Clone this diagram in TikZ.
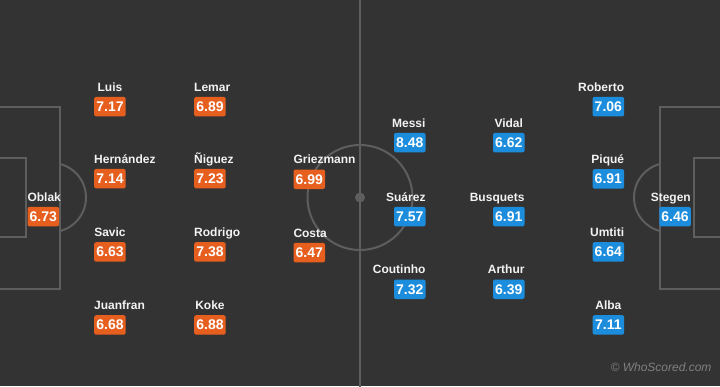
\documentclass[tikz,border=0pt]{standalone}
\usepackage{fontspec}
\setmainfont{Liberation Sans}
\definecolor{pitch}{HTML}{333333}
\definecolor{pline}{HTML}{5E5E5E}
\definecolor{teamA}{HTML}{E65F1E}
\definecolor{teamB}{HTML}{1C8DDC}
\definecolor{nametext}{HTML}{F2F2F2}
\definecolor{wmark}{HTML}{808080}
\tikzset{
  pitchline/.style={draw=pline, line width=2pt},
  ratebox/.style={rounded corners=2pt, inner sep=0pt, minimum width=31.5pt, minimum height=19.5pt,
    text=white, font=\fontsize{14}{16}\selectfont\bfseries},
  rateA/.style={ratebox, fill=teamA, anchor=north west},
  rateB/.style={ratebox, fill=teamB, anchor=north east},
  pname/.style={inner sep=0pt, text=nametext, font=\fontsize{12}{14}\selectfont\bfseries},
}
\newcommand{\plA}[5]{% name id, x, y, rating, align(west/center)
  \node[rateA] (#1r) at (#2,#3) {#4};
  \ifx c#5
    \node[pname, anchor=base] (#1n) at ([yshift=5.5pt]#1r.north) {\csname nm#1\endcsname};
  \else
    \node[pname, anchor=base west] (#1n) at ([yshift=5.5pt]#1r.north west) {\csname nm#1\endcsname};
  \fi}
\newcommand{\plB}[5]{%
  \node[rateB] (#1r) at (#2,#3) {#4};
  \ifx c#5
    \node[pname, anchor=base] (#1n) at ([yshift=5.5pt]#1r.north) {\csname nm#1\endcsname};
  \else
    \node[pname, anchor=base east] (#1n) at ([yshift=5.5pt]#1r.north east) {\csname nm#1\endcsname};
  \fi}
\def\nmoblak{Oblak}\def\nmluis{Luis}\def\nmhern{Hernández}\def\nmsavic{Savic}\def\nmjuan{Juanfran}
\def\nmlemar{Lemar}\def\nmniguez{Ñiguez}\def\nmrodrigo{Rodrigo}\def\nmkoke{Koke}
\def\nmgriez{Griezmann}\def\nmcosta{Costa}
\def\nmmessi{Messi}\def\nmsuarez{Suárez}\def\nmcout{Coutinho}
\def\nmvidal{Vidal}\def\nmbusq{Busquets}\def\nmarthur{Arthur}
\def\nmroberto{Roberto}\def\nmpique{Piqué}\def\nmumtiti{Umtiti}\def\nmalba{Alba}\def\nmstegen{Stegen}
\begin{document}
\begin{tikzpicture}[x=1pt,y=-1pt]
\useasboundingbox (0,0) rectangle (720,386);
\fill[pitch] (0,0) rectangle (720,386);
% pitch markings
\draw[pitchline] (360,-2) -- (360,388);
\draw[pitchline] (360,197.5) circle (52.5);
\fill[pline] (360,197.5) circle (5);
\draw[pitchline] (-2,107) -- (60,107) -- (60,289) -- (-2,289);
\draw[pitchline] (-2,158) -- (26,158) -- (26,237) -- (-2,237);
\draw[pitchline] (722,107) -- (660,107) -- (660,289) -- (722,289);
\draw[pitchline] (722,158) -- (694,158) -- (694,237) -- (722,237);
\begin{scope}
  \clip (61,0) rectangle (200,386);
  \draw[pitchline] (51.4,197.5) circle (34.6);
\end{scope}
\begin{scope}
  \clip (520,0) rectangle (659,386);
  \draw[pitchline] (668.6,197.5) circle (34.6);
\end{scope}
% home team
\plA{oblak}{27.3}{206.7}{6.73}{w}
\plA{luis}{94}{96.7}{7.17}{c}
\plA{hern}{94}{168.7}{7.14}{w}
\plA{savic}{94}{242}{6.63}{c}
\plA{juan}{94}{315}{6.68}{w}
\plA{lemar}{194}{96.7}{6.89}{w}
\plA{niguez}{194}{168.7}{7.23}{w}
\plA{rodrigo}{194}{242}{7.38}{w}
\plA{koke}{194}{315}{6.88}{c}
\plA{griez}{293.3}{169.3}{6.99}{w}
\plA{costa}{293.3}{242.7}{6.47}{w}
% away team
\plB{messi}{425.7}{132.7}{8.48}{e}
\plB{suarez}{425.7}{206.7}{7.57}{e}
\plB{cout}{425.7}{279.3}{7.32}{e}
\plB{vidal}{524.7}{132.7}{6.62}{c}
\plB{busq}{524.7}{206.7}{6.91}{e}
\plB{arthur}{524.7}{279.3}{6.39}{e}
\plB{roberto}{624.3}{96.7}{7.06}{e}
\plB{pique}{624.3}{169}{6.91}{e}
\plB{umtiti}{624.3}{242}{6.64}{e}
\plB{alba}{624.3}{315}{7.11}{c}
\plB{stegen}{691}{206.7}{6.46}{e}
% watermark
\node[inner sep=0pt, anchor=east, text=wmark, font=\fontsize{12}{14}\selectfont\itshape] (wm) at (711.7,367.7) {© WhoScored.com};
\end{tikzpicture}
\end{document}
